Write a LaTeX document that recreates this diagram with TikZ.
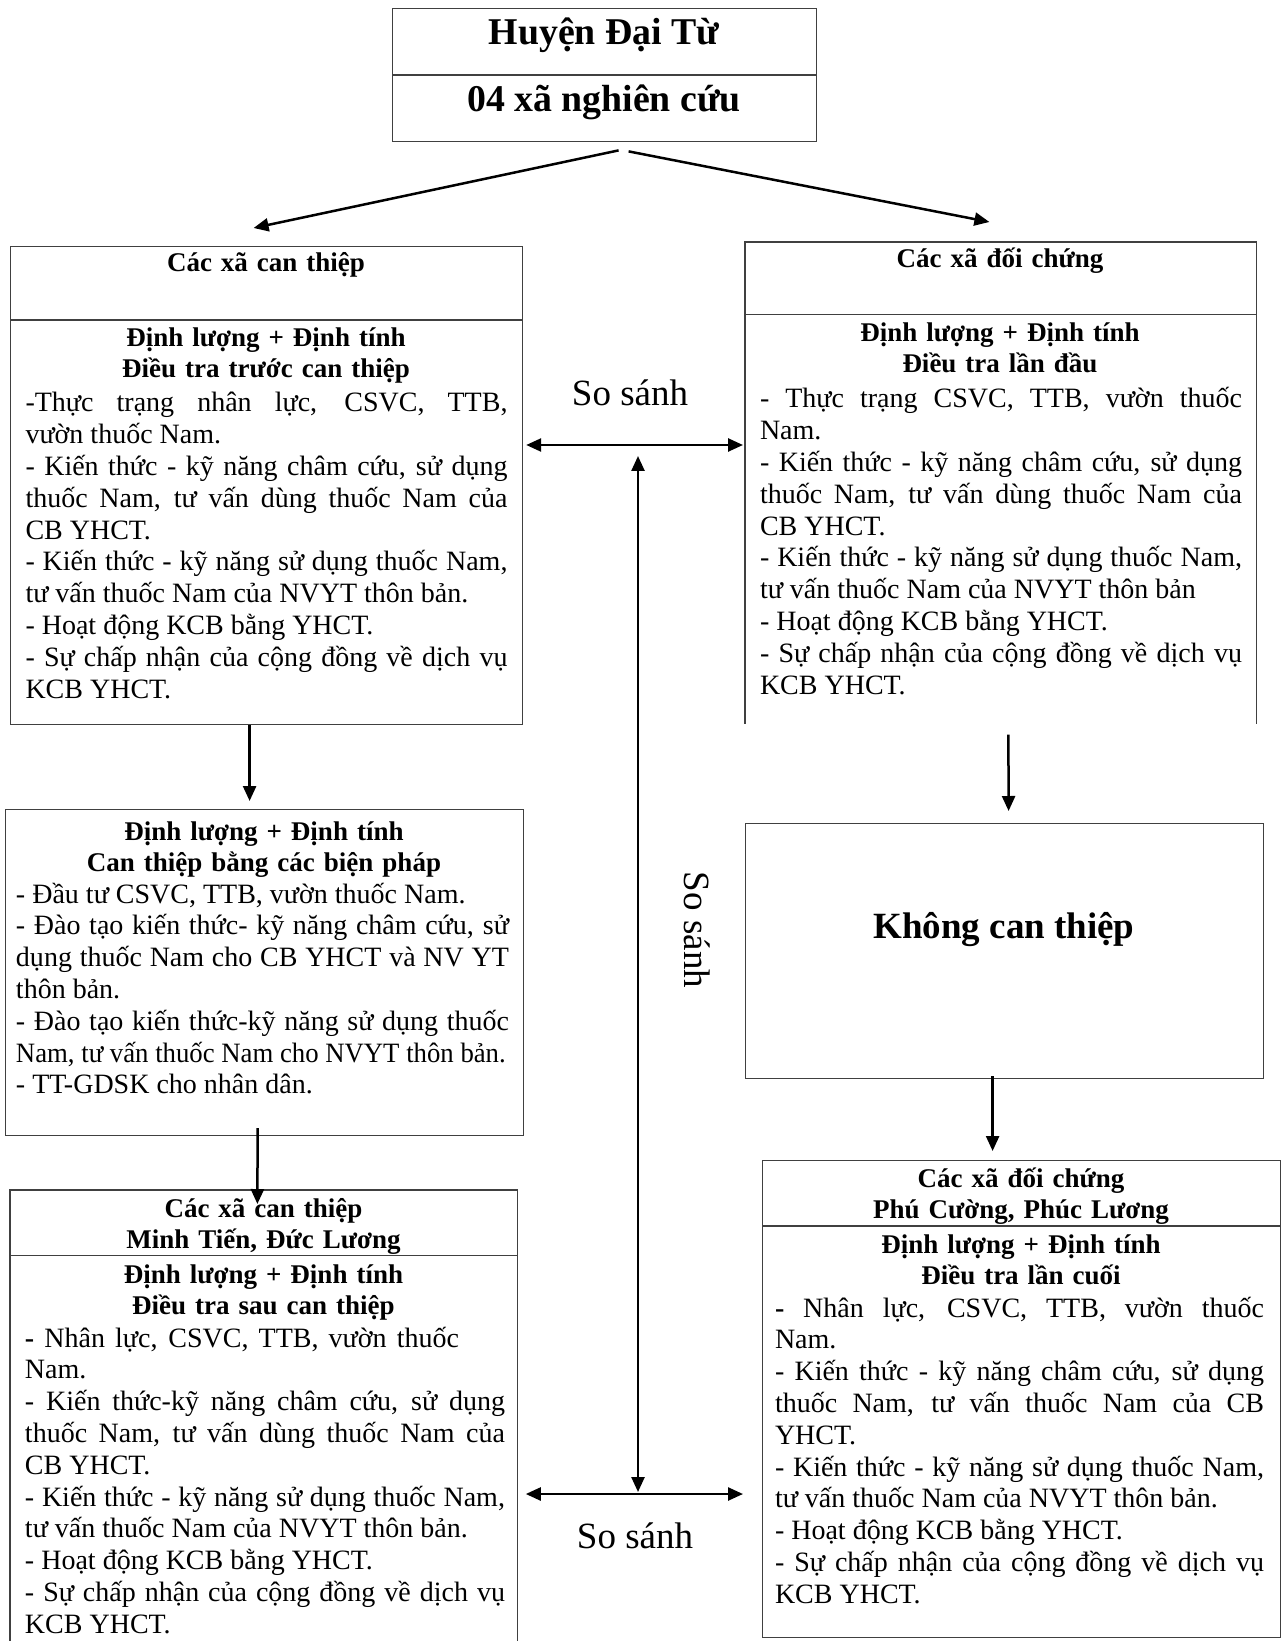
\documentclass[tikz,border=0pt]{standalone}
\usepackage{fontspec}
\setmainfont{Liberation Serif}
\usetikzlibrary{arrows.meta, calc}
\newcommand{\bodyfont}{\fontsize{14}{15.9}\selectfont}
\newcommand{\headfont}{\bfseries\fontsize{13.5}{15.5}\selectfont}
\newcommand{\bigfont}{\fontsize{18.5}{21}\selectfont}
\hyphenpenalty=10000
\exhyphenpenalty=10000
\tolerance=10000

\begin{document}
\begin{tikzpicture}[x=0.5pt, y=-0.5pt,
  box/.style={draw=black!75, line width=0.6pt, anchor=north west, inner sep=0pt},
  pane/.style={anchor=north west, inner sep=0pt},
  edge/.style={draw=black!75, line width=0.6pt},
  headtxt/.style={font=\headfont, anchor=base, inner sep=0pt, align=center, text width=250pt},
  bodytxt/.style={font=\bodyfont, anchor=base, inner sep=0pt, align=justify},
  arr/.style={-{Triangle[length=7.5pt,width=6.5pt]}, line width=1.25pt},
  dblarr/.style={{Triangle[length=7.5pt,width=6.5pt]}-{Triangle[length=7.5pt,width=6.5pt]}, line width=1.25pt}]

\useasboundingbox (0,0) rectangle (1284,1641);

% huyen
\node[box, minimum width=212pt, minimum height=33pt] (huyenBox) at (392,8) {};
\node[box, minimum width=212pt, minimum height=33pt] (xaBox) at (huyenBox.south west) {};
\node[font=\bfseries\fontsize{18.9}{21}\selectfont, anchor=base] (huyenTxt) at (604,45) {Huyện Đại Từ};
\node[font=\bfseries\fontsize{18.9}{21}\selectfont, anchor=base] (xaTxt) at (604,112) {04 xã nghiên cứu};

% can thiep, truoc
\node[box, minimum width=256pt, minimum height=36.5pt] (ctHead) at (10,246) {};
\node[box, minimum width=256pt, minimum height=202pt] (ctBody) at (ctHead.south west) {};
\node[headtxt] (ctHeadTxt) at (266,272) {Các xã can thiệp};
\node[headtxt] (ctBold) at (266,347) {Định lượng + Định tính\\Điều tra trước can thiệp};
\node[bodytxt, text width=241pt] (ctBodyTxt) at (266.5,412) {-Thực trạng nhân lực, CSVC, TTB,\linebreak
  vườn thuốc Nam.\\
  - Kiến thức - kỹ năng châm cứu, sử dụng\linebreak
  thuốc Nam, tư vấn dùng thuốc Nam của\linebreak
  CB YHCT.\\
  - Kiến thức - kỹ năng sử dụng thuốc Nam,\linebreak
  tư vấn thuốc Nam của NVYT thôn bản.\\
  - Hoạt động KCB bằng YHCT.\\
  - Sự chấp nhận của cộng đồng về dịch vụ\linebreak
  KCB YHCT.};

% doi chung, lan dau
\node[pane, minimum width=255.5pt, minimum height=36pt] (dcHead) at (745,242) {};
\node[pane, minimum width=255.5pt, minimum height=204pt] (dcBody) at (dcHead.south west) {};
\draw[edge] (dcBody.south west) -- (dcHead.north west) -- (dcHead.north east) -- (dcBody.south east);
\draw[edge] (dcHead.south west) -- (dcHead.south east);
\node[headtxt] (dcHeadTxt) at (1000,268) {Các xã đối chứng};
\node[headtxt] (dcBold) at (1000,342) {Định lượng + Định tính\\Điều tra lần đầu};
\node[bodytxt, text width=241pt] (dcBodyTxt) at (1001,408) {- Thực trạng CSVC, TTB, vườn thuốc\linebreak
  Nam.\\
  - Kiến thức - kỹ năng châm cứu, sử dụng\linebreak
  thuốc Nam, tư vấn dùng thuốc Nam của\linebreak
  CB YHCT.\\
  - Kiến thức - kỹ năng sử dụng thuốc Nam,\linebreak
  tư vấn thuốc Nam của NVYT thôn bản\\
  - Hoạt động KCB bằng YHCT.\\
  - Sự chấp nhận của cộng đồng về dịch vụ\linebreak
  KCB YHCT.};

% bien phap
\node[box, minimum width=259pt, minimum height=163pt] (bpBox) at (5,809) {};
\node[headtxt] (bpBold) at (264,840) {Định lượng + Định tính\\Can thiệp bằng các biện pháp};
\node[bodytxt, text width=246.5pt] (bpTxt) at (262.5,903) {- Đầu tư CSVC, TTB, vườn thuốc Nam.\\
  - Đào tạo kiến thức- kỹ năng châm cứu, sử\linebreak
  dụng thuốc Nam cho CB YHCT và NV YT\linebreak
  thôn bản.\\
  - Đào tạo kiến thức-kỹ năng sử dụng thuốc\linebreak
  \scalebox{0.955}[1]{Nam, tư vấn thuốc Nam cho NVYT thôn bản.}\\
  - TT-GDSK cho nhân dân.};

% khong can thiep
\node[box, minimum width=259pt, minimum height=127.5pt] (khongBox) at (745,823) {};
\node[font=\bfseries\bigfont, anchor=base] (khongTxt) at (1004,938) {Không can thiệp};

% can thiep, sau
\node[pane, minimum width=253.5pt, minimum height=32.5pt] (ctHead2) at (10,1190) {};
\node[pane, minimum width=253.5pt, minimum height=195pt] (ctBody2) at (ctHead2.south west) {};
\draw[edge] (ctBody2.south west) -- (ctHead2.north west) -- (ctHead2.north east) -- (ctBody2.south east);
\draw[edge] (ctHead2.south west) -- (ctHead2.south east);
\node[headtxt] (ctHead2Txt) at (263.5,1217) {Các xã can thiệp\\Minh Tiến, Đức Lương};
\node[headtxt] (ctBold2) at (263.5,1283) {Định lượng + Định tính\\Điều tra sau can thiệp};
\node[bodytxt, text width=240pt] (ctBody2Txt) at (265,1347) {\makebox[217pt][s]{\textbf{-} Nhân lực, CSVC, TTB, vườn thuốc}\\
  Nam.\\
  - Kiến thức-kỹ năng châm cứu, sử dụng\linebreak
  thuốc Nam, tư vấn dùng thuốc Nam của\linebreak
  CB YHCT.\\
  - Kiến thức - kỹ năng sử dụng thuốc Nam,\linebreak
  tư vấn thuốc Nam của NVYT thôn bản.\\
  - Hoạt động KCB bằng YHCT.\\
  - Sự chấp nhận của cộng đồng về dịch vụ\linebreak
  KCB YHCT.};

% doi chung, lan cuoi
\node[box, minimum width=259pt, minimum height=32.5pt] (dcHead2) at (762,1160) {};
\node[box, minimum width=259pt, minimum height=205.5pt] (dcBody2) at (dcHead2.south west) {};
\node[headtxt] (dcHead2Txt) at (1021,1187) {Các xã đối chứng\\Phú Cường, Phúc Lương};
\node[headtxt] (dcBold2) at (1021,1253) {Định lượng + Định tính\\Điều tra lần cuối};
\node[bodytxt, text width=244.5pt] (dcBody2Txt) at (1019.5,1317) {\textbf{-} Nhân lực, CSVC, TTB, vườn thuốc\linebreak
  Nam.\\
  - Kiến thức - kỹ năng châm cứu, sử dụng\linebreak
  thuốc Nam, tư vấn thuốc Nam của CB\linebreak
  YHCT.\\
  - Kiến thức - kỹ năng sử dụng thuốc Nam,\linebreak
  tư vấn thuốc Nam của NVYT thôn bản.\\
  - Hoạt động KCB bằng YHCT.\\
  - Sự chấp nhận của cộng đồng về dịch vụ\linebreak
  KCB YHCT.};

% so sanh
\coordinate (cmpTop) at (638,445);
\coordinate (cmpBot) at (638,1494);
\node[font=\bigfont, anchor=base] (cmpTopTxt) at (630,406) {So sánh};
\node[font=\bigfont, anchor=base] (cmpBotTxt) at (635,1548) {So sánh};
\node[font=\bigfont, rotate=-90] (cmpMidTxt) at (697,930) {So sánh};

% arrows
\draw[arr] ($(xaBox.south)+(14,8)$) -- ($(ctHead.north)+(-13,-18)$);
\draw[arr] ($(xaBox.south)+(24,9)$) -- ($(dcHead.north)+(-11.5,-20)$);
\draw[arr] ($(ctBody.south)+(-17,0)$) -- ($(bpBox.north)+(-15,-8)$);
\draw[arr] ($(bpBox.south)+(-7,-8)$) -- ($(ctHead2.north)+(-6.5,14)$);
\draw[arr] ($(dcBody.south)+(7.5,11)$) -- ($(khongBox.north)+(4,-12)$);
\draw[arr] ($(khongBox.south)+(-12,-3)$) -- ($(dcHead2.north)+(-29,-9)$);
\draw[dblarr] ($(ctBody.east |- cmpTop)+(3,0)$) -- ($(dcBody.west |- cmpTop)+(-2,0)$);
\draw[dblarr] ($(ctBody2.east |- cmpBot)+(8,0)$) -- ($(dcBody2.west |- cmpBot)+(-19,0)$);
\draw[dblarr] ($(cmpTop)+(0,11)$) -- ($(cmpBot)+(0,-2)$);
\end{tikzpicture}
\end{document}
